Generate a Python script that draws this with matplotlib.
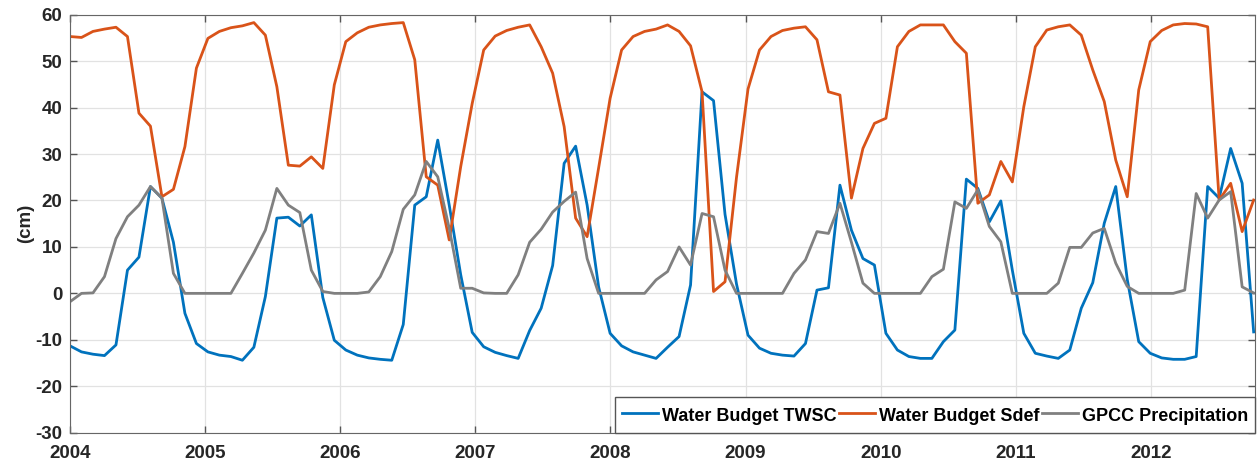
import numpy as np
import matplotlib.pyplot as plt

plt.rcParams['font.family'] = ['Liberation Sans', 'DejaVu Sans']
plt.rcParams['font.weight'] = 'bold'
plt.rcParams['axes.unicode_minus'] = False

# monthly values (cm)
twsc = [-11.3, -12.6, -13.1, -13.4, -11.1, 5.0, 7.8, 23.0, 20.5, 11.0, -4.3, -10.8,
        -12.6, -13.3, -13.6, -14.4, -11.6, -0.7, 16.2, 16.4, 14.5, 16.9, -0.9, -10.1,
        -12.2, -13.3, -13.9, -14.2, -14.4, -6.7, 19.0, 20.8, 33.0, 19.0, 4.0, -8.4,
        -11.5, -12.7, -13.4, -14.0, -8.0, -3.2, 6.0, 28.0, 31.7, 19.0, 1.4, -8.6,
        -11.3, -12.6, -13.3, -14.0, -11.6, -9.3, 1.8, 43.4, 41.5, 17.0, 2.0, -9.0,
        -11.8, -12.9, -13.3, -13.5, -10.8, 0.7, 1.2, 23.3, 13.6, 7.5, 6.1, -8.6,
        -12.2, -13.6, -14.0, -14.0, -10.4, -7.9, 24.6, 22.6, 15.4, 19.9, 5.0, -8.6,
        -12.9, -13.5, -14.0, -12.2, -3.2, 2.3, 15.1, 23.0, 3.0, -10.4, -12.9, -13.9,
        -14.2, -14.2, -13.6, 23.0, 20.5, 31.2, 23.7, -8.3]

sdef = [55.3, 55.1, 56.4, 56.9, 57.3, 55.3, 38.8, 36.0, 20.8, 22.4, 31.6, 48.5,
        54.9, 56.4, 57.2, 57.6, 58.3, 55.6, 44.5, 27.6, 27.4, 29.4, 26.9, 44.9,
        54.2, 56.1, 57.3, 57.8, 58.1, 58.3, 50.3, 25.1, 23.3, 11.5, 27.3, 40.9,
        52.4, 55.4, 56.6, 57.3, 57.8, 53.1, 47.4, 35.9, 16.2, 12.2, 27.0, 42.0,
        52.4, 55.3, 56.4, 56.9, 57.8, 56.4, 53.3, 43.4, 0.4, 2.5, 25.0, 44.0,
        52.4, 55.3, 56.6, 57.1, 57.4, 54.6, 43.4, 42.7, 20.5, 31.2, 36.6, 37.7,
        53.1, 56.4, 57.8, 57.8, 57.8, 54.2, 51.7, 19.4, 21.2, 28.4, 24.0, 40.2,
        53.1, 56.7, 57.4, 57.8, 55.6, 48.1, 41.3, 28.7, 20.8, 43.8, 54.2, 56.6,
        57.8, 58.1, 58.0, 57.4, 20.1, 23.7, 13.3, 20.1]

gpcc = [-1.8, 0.0, 0.1, 3.6, 11.8, 16.5, 19.0, 23.0, 20.5, 4.3, 0.0, 0.0,
        0.0, 0.0, 0.0, 4.3, 8.7, 13.6, 22.6, 19.0, 17.4, 5.0, 0.4, 0.0,
        0.0, 0.0, 0.3, 3.6, 9.0, 18.1, 21.2, 28.4, 25.1, 14.0, 1.1, 1.1,
        0.1, 0.0, 0.0, 4.0, 11.0, 13.8, 17.5, 19.8, 21.8, 7.5, 0.0, 0.0,
        0.0, 0.0, 0.0, 2.9, 4.7, 10.0, 6.1, 17.2, 16.5, 5.0, 0.0, 0.0,
        0.0, 0.0, 0.0, 4.3, 7.2, 13.3, 12.9, 19.4, 11.0, 2.2, 0.0, 0.0,
        0.0, 0.0, 0.0, 3.6, 5.2, 19.7, 18.3, 22.3, 14.4, 11.1, 0.0, 0.0,
        0.0, 0.0, 2.2, 9.9, 9.9, 13.0, 14.0, 6.5, 1.5, 0.0, 0.0, 0.0,
        0.0, 0.7, 21.5, 16.2, 20.1, 21.9, 1.4, 0.1]

labels = ['Water Budget TWSC', 'Water Budget Sdef', 'GPCC Precipitation']
t_start, t_end = 2004.0, 2012.76
years = np.arange(2004, 2013)
yticks = np.arange(-30, 61, 10)

t = np.linspace(t_start, t_end, len(twsc))

fig = plt.figure(figsize=(12.57, 4.63), dpi=100)
ax = fig.add_axes([70 / 1257, 1 - 432.7 / 463, 1185 / 1257, 418 / 463])

ax.plot(t, twsc, color='#0072BD', lw=2.0, label=labels[0])
ax.plot(t, sdef, color='#D95319', lw=2.0, label=labels[1])
ax.plot(t, gpcc, color='#808080', lw=2.0, label=labels[2])

ax.set_xlim(2004, 2012.77)
ax.set_ylim(-30, 60)
ax.set_xticks(years)
ax.set_yticks(yticks)
ax.grid(True, color='#e2e2e2', lw=0.9)
ax.set_axisbelow(True)
ax.tick_params(direction='in', top=True, right=True, length=5, width=1,
               colors='#555555', labelcolor='#262626', labelsize=13.5)
ax.tick_params(axis='x', pad=9)
ax.tick_params(axis='y', pad=5.5)
for s in ax.spines.values():
    s.set_color('#666666')
ax.set_ylabel('(cm)', fontsize=13.5, fontweight='bold', color='#262626', labelpad=1)

leg = ax.legend(loc='lower right', ncol=3, borderaxespad=0, fontsize=13,
                fancybox=False, edgecolor='#555555', framealpha=1,
                handlelength=2, handleheight=1.4, handletextpad=0.2,
                columnspacing=0.15, borderpad=0.4)
leg.get_frame().set_linewidth(1)

fig.savefig('out.png', dpi=100)
